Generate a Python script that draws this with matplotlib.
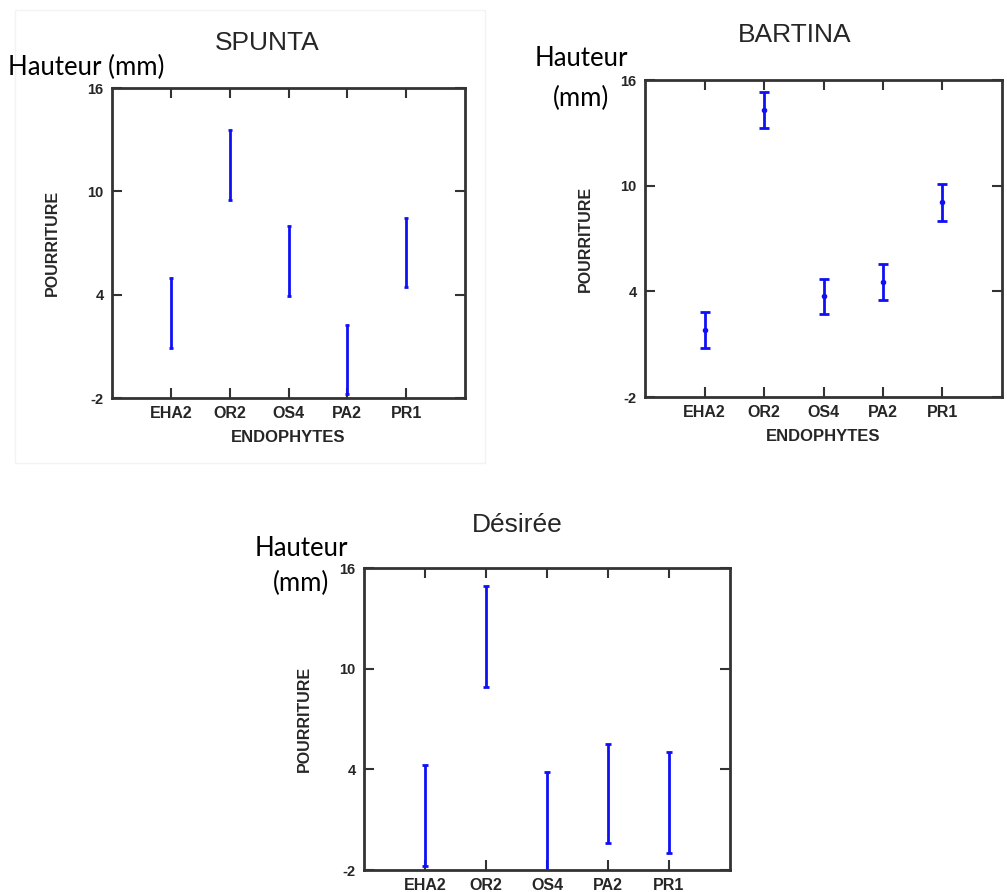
import matplotlib.pyplot as plt
from matplotlib.patches import Rectangle

categories = ['EHA2', 'OR2', 'OS4', 'PA2', 'PR1']
y_ticks = [-2, 4, 10, 16]

spunta_mean = [2.95, 11.55, 5.97, 0.25, 6.44]
spunta_err = [2.02, 2.03, 2.03, 2.0, 2.01]

bartina_mean = [1.80, 14.28, 3.72, 4.55, 9.05]
bartina_err = [1.02, 1.02, 0.99, 1.03, 1.03]

desiree_mean = [1.24, 11.90, 0.83, 2.55, 2.01]
desiree_err = [3.0, 3.0, 3.0, 2.97, 3.01]

TXT = '#262626'
BLUE = '#1010f5'
FONT = 'Liberation Sans'

fig = plt.figure(figsize=(10.07, 8.92), dpi=100)

# faint frame around the first panel
fig.add_artist(Rectangle((15 / 1007, 1 - 463 / 892), 470 / 1007, 453 / 892,
                         transform=fig.transFigure, fill=False,
                         edgecolor='#f3f3f3', linewidth=1))


def panel(rect, mean, err, cap, show_mean, xlabel=True):
    ax = fig.add_axes(rect)
    x = list(range(1, len(categories) + 1))
    ax.errorbar(x, mean, yerr=err, fmt='o' if show_mean else 'none',
                color=BLUE, ecolor=BLUE, elinewidth=2, capsize=cap,
                capthick=2, markersize=3)
    ax.set_xlim(0, 6)
    ax.set_ylim(-2, 16)
    ax.set_xticks(x)
    ax.set_xticklabels(categories, fontfamily=FONT, fontweight='bold',
                       fontsize=11.5, color=TXT)
    ax.set_yticks(y_ticks)
    ax.set_yticklabels([str(v) for v in y_ticks], fontfamily=FONT,
                       fontweight='bold', fontsize=10.5, color=TXT)
    ax.tick_params(direction='in', length=7, width=1.5, top=True, right=True,
                   color='#333333', pad=6)
    for s in ax.spines.values():
        s.set_linewidth(2)
        s.set_color('#333333')
    ax.set_ylabel('POURRITURE', fontfamily=FONT, fontweight='bold',
                  fontsize=11.5, color=TXT, labelpad=20)
    if xlabel:
        ax.set_xlabel('ENDOPHYTES', fontfamily=FONT, fontweight='bold',
                      fontsize=12, color=TXT, labelpad=6)
    return ax


panel([112 / 1007, 1 - 398 / 892, 353 / 1007, 310 / 892],
      spunta_mean, spunta_err, 1.5, False)
panel([645 / 1007, 1 - 397 / 892, 357 / 1007, 317 / 892],
      bartina_mean, bartina_err, 3.5, True)
panel([364 / 1007, 1 - 870 / 892, 366 / 1007, 302 / 892],
      desiree_mean, desiree_err, 2.5, False, xlabel=False)

# panel titles
for title, (tx, ty) in zip(['SPUNTA', 'BARTINA', 'Désirée'],
                           [(267, 43), (795, 35), (517, 525)]):
    fig.text(tx / 1007, 1 - ty / 892, title, ha='center', va='center',
             fontfamily=FONT, fontsize=19, color=TXT)

hkw = dict(ha='left', va='center', fontfamily='Lato', fontsize=18.5,
           color='black')
fig.text(8 / 1007, 1 - 67 / 892, 'Hauteur (mm)', **hkw)
fig.text(535 / 1007, 1 - 58 / 892, 'Hauteur', **hkw)
fig.text(553 / 1007, 1 - 98 / 892, '(mm)', **hkw)
fig.text(255 / 1007, 1 - 549 / 892, 'Hauteur', **hkw)
fig.text(273 / 1007, 1 - 583 / 892, '(mm)', **hkw)

fig.savefig('out.png', dpi=100)
